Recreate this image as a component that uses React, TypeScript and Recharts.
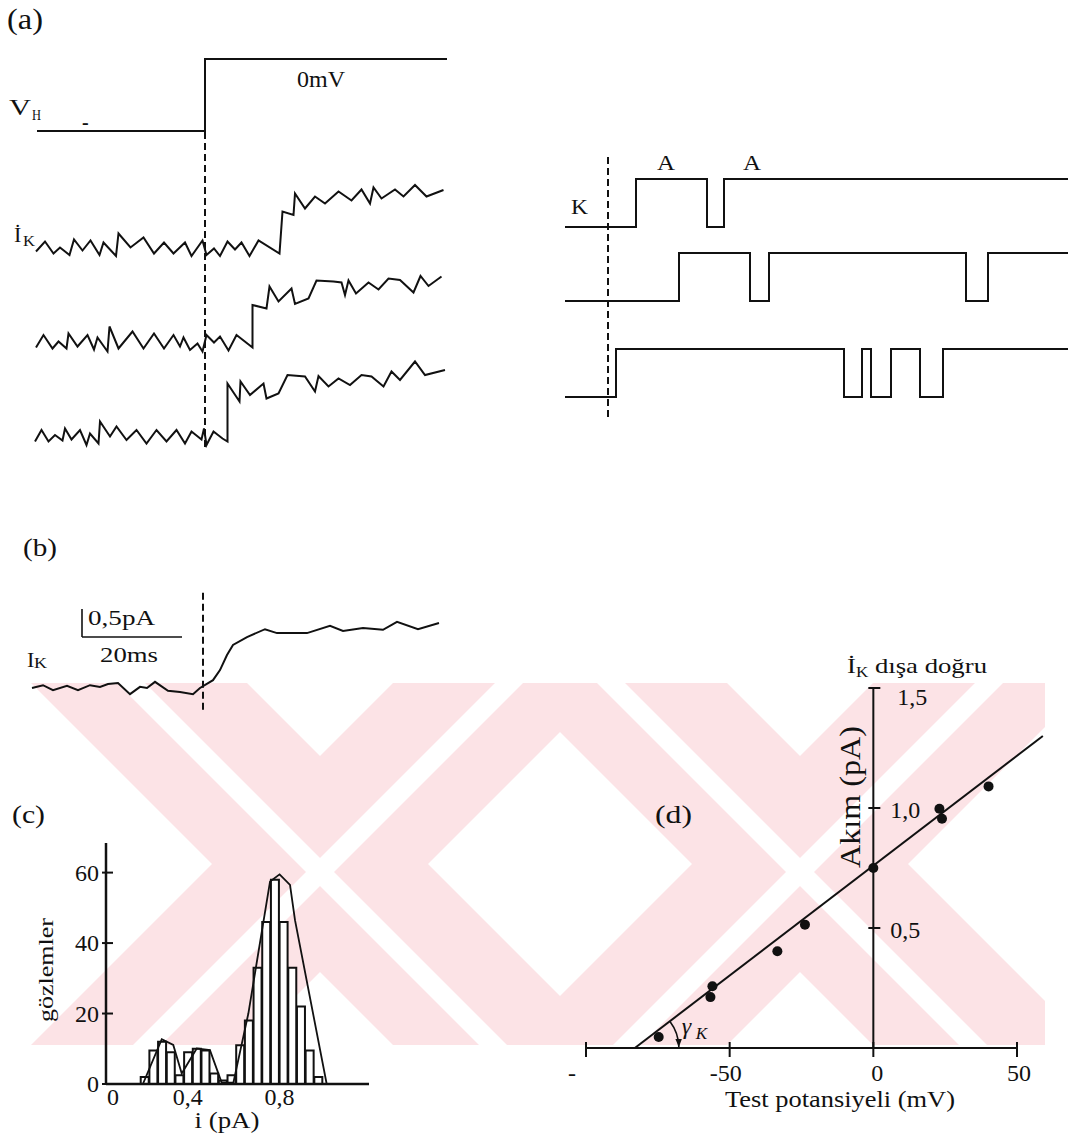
import React from 'react';
import {
  LineChart,
  Line,
  XAxis,
  YAxis,
  ReferenceLine,
  ReferenceDot,
  ComposedChart,
  Bar,
  ScatterChart,
  Scatter,
} from 'recharts';

const SERIF = '"Liberation Serif", "Times New Roman", "DejaVu Serif", serif';
const INK = '#111111';
const PINK = '#fce3e6';

// ---------- (a) voltage protocol: time (ms, 0 = step) and potential (mV)
const protocolMs = [-33.6, 0, 0, 48.4];
const protocolMv = [-80, -80, 0, 0];

// ---------- (a) single-channel sweeps: time (ms) and current (pA above closed level)
const sweep1Ms = [-33.8, -32.0, -30.3, -29.0, -27.1, -26.2, -24.5, -22.9, -21.1, -20.3, -17.8, -17.3, -14.9, -12.3, -10.2, -8.2, -6.3, -4.0, -2.7, -0.5, 0.3, 1.8, 3.0, 4.5, 6.0, 7.3, 8.9, 10.7, 14.9, 15.5, 17.7, 18.0, 20.0, 22.0, 24.0, 26.7, 29.3, 31.3, 33.0, 33.7, 35.3, 38.0, 39.7, 42.0, 44.3, 47.7];
const sweep1Pa = [-0.03, 0.17, -0.07, 0.05, -0.1, 0.21, -0.01, 0.19, -0.1, 0.15, -0.12, 0.33, 0.05, 0.25, -0.07, 0.15, -0.07, 0.15, -0.12, 0.19, -0.1, 0.03, -0.12, 0.17, 0.01, 0.15, -0.12, 0.19, -0.07, 0.77, 0.7, 1.13, 0.83, 1.07, 0.93, 1.17, 0.99, 1.21, 0.93, 1.25, 1.03, 1.21, 1.07, 1.3, 1.07, 1.2];

const sweep2Ms = [-33.8, -32.3, -30.5, -29.3, -27.7, -27.3, -25.5, -23.5, -22.2, -21.5, -19.5, -19.1, -17.3, -14.5, -12.3, -10.2, -8.2, -6.3, -5.0, -4.3, -3.0, -1.5, -0.5, 0.3, 1.8, 3.0, 4.7, 6.3, 9.5, 9.5, 12.3, 12.9, 14.7, 17.3, 18.0, 20.7, 22.3, 25.7, 27.3, 28.0, 28.7, 30.2, 32.7, 34.7, 36.7, 39.0, 41.7, 43.1, 44.7, 47.3];
const sweep2Pa = [-0.15, 0.1, -0.17, -0.03, -0.17, 0.13, -0.13, 0.1, -0.19, 0.05, -0.23, 0.27, -0.17, 0.17, -0.17, 0.13, -0.17, 0.1, -0.13, 0.05, -0.2, -0.07, -0.23, 0.1, -0.05, 0.07, -0.21, 0.1, -0.15, 0.7, 0.63, 1.07, 0.77, 1.03, 0.72, 0.83, 1.19, 1.17, 1.15, 0.9, 1.19, 0.93, 1.15, 1.01, 1.23, 1.2, 0.95, 1.28, 1.08, 1.27];

const sweep3Ms = [-34.0, -32.7, -31.3, -30.0, -28.5, -28.0, -26.7, -25.0, -23.7, -23.0, -21.3, -21.0, -19.0, -17.7, -15.7, -13.7, -11.7, -9.7, -7.7, -5.7, -4.0, -2.7, -0.7, -0.2, 0.3, 1.7, 3.5, 4.5, 4.5, 6.9, 7.1, 9.0, 11.7, 12.3, 14.7, 16.5, 20.0, 22.0, 22.7, 24.7, 26.7, 29.0, 31.3, 33.3, 35.7, 37.3, 39.0, 42.0, 44.0, 48.0];
const sweep3Pa = [-0.09, 0.14, -0.09, 0.04, -0.07, 0.17, -0.05, 0.14, -0.16, 0.07, -0.13, 0.31, 0.01, 0.21, -0.06, 0.14, -0.13, 0.14, -0.09, 0.14, -0.13, 0.11, -0.05, 0.17, -0.16, 0.11, -0.03, -0.09, 1.07, 0.71, 1.11, 0.84, 1.07, 0.77, 0.87, 1.24, 1.21, 0.91, 1.22, 1.01, 1.17, 1.04, 1.24, 1.21, 1.01, 1.31, 1.14, 1.51, 1.24, 1.34];

// ---------- (a, right) idealised records: transition times (ms) and state (0 = K closed, 1 = A open)
const ideal1Ms = [-8.6, 5.6, 19.8, 23.2, 92];
const ideal1State = [0, 1, 0, 1, 1];
const ideal2Ms = [-8.6, 14.2, 28.4, 32.2, 71.6, 76, 92];
const ideal2State = [0, 1, 0, 1, 0, 1, 1];
const ideal3Ms = [-8.6, 1.6, 47.2, 50.8, 52.6, 56.6, 62.4, 67, 92];
const ideal3State = [0, 1, 0, 1, 0, 1, 0, 1, 1];

// ---------- (b) ensemble average: time (ms) and current (pA)
const averageMs = [-34.2, -32, -30, -27.2, -25, -22.6, -20.6, -19, -17, -14.6, -12.6, -11.2, -9.6, -7, -4.6, -2, -0.6, 2, 3.4, 4.8, 6, 8.8, 12.4, 14.8, 20.8, 25.4, 28, 32, 36, 38.8, 43, 47.2];
const averagePa = [0, 0.05, -0.04, 0.04, -0.04, 0.05, 0.02, 0.07, 0.09, -0.11, 0.02, 0, 0.11, -0.05, -0.07, -0.11, 0, 0.14, 0.32, 0.59, 0.77, 0.91, 1.05, 0.98, 0.98, 1.11, 1.02, 1.07, 1.04, 1.18, 1.05, 1.16];
const scaleBarMs = 20;
const scaleBarPa = 0.5;

// ---------- (c) amplitude histogram
const binCentresPa = [0.18, 0.22, 0.26, 0.3, 0.34, 0.38, 0.42, 0.46, 0.5, 0.54, 0.58, 0.62, 0.66, 0.7, 0.74, 0.78, 0.82, 0.86, 0.9, 0.94, 0.98];
const binCounts = [2, 9.5, 12, 9, 2.5, 9, 10, 9.5, 3, 1, 2.5, 11, 18, 33, 46, 58, 46, 33, 22, 9.5, 2];
const envelopePa = [0.17, 0.257, 0.31, 0.349, 0.418, 0.479, 0.533, 0.587, 0.656, 0.756, 0.8, 0.848, 0.871, 1.017];
const envelopeCounts = [0, 12.7, 11.1, 3, 10.1, 9.6, 0.4, 0.4, 20, 57.5, 59.5, 56.5, 46.5, 0];
const histXTicks = [0, 0.4, 0.8];
const histXTickLabels = ['0', '0,4', '0,8'];
const histYTicks = [0, 20, 40, 60];

// ---------- (d) current–voltage relation
const testMv = [-74.7, -56.0, -56.7, -33.4, -23.8, 0, 23.0, 23.9, 40.1];
const currentPa = [0.046, 0.257, 0.212, 0.403, 0.514, 0.75, 0.997, 0.955, 1.09];
const fitMv = [-83, 59];
const fitPa = [0, 1.3];
const ivXTicks = [-100, -50, 0, 50];
const ivXTickLabels = ['-', '-50', '0', '50'];
const ivYTicks = [0.5, 1.0, 1.5];
const ivYTickLabels = ['0,5', '1,0', '1,5'];

// ---------- helpers to build tables
const series = (ts: number[], vs: number[], offset: number, gain = 1) =>
  ts.map((t, k) => ({ t, v: offset + gain * vs[k] }));

const T = (props: any) => (
  <text fontFamily={SERIF} fill={INK} lengthAdjust="spacingAndGlyphs" {...props} />
);

const Abs = ({ left, top, children }: any) => (
  <div style={{ position: 'absolute', left, top }}>{children}</div>
);

// decorative watermark (background only)
const WM_TOP = 683;
const WM_BOTTOM = 1045;
const bandPoints = (cx: number, dir: number, w: number, cy = 864) => {
  const xt = cx + dir * (WM_TOP - cy);
  const xb = cx + dir * (WM_BOTTOM - cy);
  return `${xt - w},${WM_TOP} ${xt + w},${WM_TOP} ${xb + w},${WM_BOTTOM} ${xb - w},${WM_BOTTOM}`;
};
const wmCentres = [320, 800];
const Watermark = () => (
  <svg width={1073} height={1140} style={{ position: 'absolute', left: 0, top: 0 }}>
    <defs>
      <clipPath id="wmclip">
        <rect x={25} y={WM_TOP} width={1020} height={WM_BOTTOM - WM_TOP} />
      </clipPath>
    </defs>
    <g clipPath="url(#wmclip)">
      {wmCentres.map((cx) => (
        <g key={cx} fill={PINK}>
          <polygon points={bandPoints(cx, 1, 108)} />
          <polygon points={bandPoints(cx, -1, 108)} />
        </g>
      ))}
      {wmCentres.map((cx) => (
        <g key={`s${cx}`} fill="#ffffff">
          <polygon points={bandPoints(cx - 8, 1, 14)} />
          <polygon points={bandPoints(cx + 8, -1, 14)} />
        </g>
      ))}
    </g>
  </svg>
);

// ---------- panel (a) left
const PanelALeft = () => {
  const lines = [
    series(protocolMs, protocolMv, 8.02, 0.018),
    series(sweep1Ms, sweep1Pa, 4.2),
    series(sweep2Ms, sweep2Pa, 2.4),
    series(sweep3Ms, sweep3Pa, 0.46),
  ];
  return (
    <LineChart width={460} height={470} margin={{ top: 40, right: 5, bottom: 10, left: 30 }}>
      <XAxis type="number" dataKey="t" domain={[-35, 50]} hide allowDataOverflow />
      <YAxis type="number" dataKey="v" domain={[0, 8.4]} hide allowDataOverflow />
      <ReferenceLine
        segment={[{ x: 0, y: 0.26 }, { x: 0, y: 6.58 }]}
        stroke={INK}
        strokeWidth={2}
        strokeDasharray="7 4"
        ifOverflow="visible"
      />
      {lines.map((d, k) => (
        <Line
          key={k}
          data={d}
          dataKey="v"
          type="linear"
          stroke={INK}
          strokeWidth={2}
          dot={false}
          isAnimationActive={false}
        />
      ))}
    </LineChart>
  );
};

// ---------- panel (a) right
const PanelARight = () => {
  const lines = [
    series(ideal1Ms, ideal1State, 4.04),
    series(ideal2Ms, ideal2State, 2.5),
    series(ideal3Ms, ideal3State, 0.5),
  ];
  return (
    <LineChart width={515} height={271} margin={{ top: 0, right: 0, bottom: 0, left: 0 }}>
      <XAxis type="number" dataKey="t" domain={[-10, 93]} hide allowDataOverflow />
      <YAxis type="number" dataKey="v" domain={[0, 271 / 48]} hide allowDataOverflow />
      <ReferenceLine
        segment={[{ x: 0, y: 0.083 }, { x: 0, y: 5.583 }]}
        stroke={INK}
        strokeWidth={2}
        strokeDasharray="7 4"
        ifOverflow="visible"
      />
      {lines.map((d, k) => (
        <Line
          key={k}
          data={d}
          dataKey="v"
          type="stepAfter"
          stroke={INK}
          strokeWidth={2}
          dot={false}
          isAnimationActive={false}
        />
      ))}
    </LineChart>
  );
};

// ---------- panel (b)
const PanelB = () => {
  const avg = series(averageMs, averagePa, 0);
  const barT = -24.2;
  const barI = 0.91;
  return (
    <LineChart width={460} height={140} margin={{ top: 0, right: 0, bottom: 0, left: 0 }}>
      <XAxis type="number" dataKey="t" domain={[-40.6, 51.4]} hide allowDataOverflow />
      <YAxis type="number" dataKey="v" domain={[-0.5, 2.0]} hide allowDataOverflow />
      <ReferenceLine
        segment={[{ x: barT, y: barI }, { x: barT, y: barI + scaleBarPa }]}
        stroke={INK}
        strokeWidth={1.6}
        ifOverflow="visible"
      />
      <ReferenceLine
        segment={[{ x: barT, y: barI }, { x: barT + scaleBarMs, y: barI }]}
        stroke={INK}
        strokeWidth={1.6}
        ifOverflow="visible"
      />
      <ReferenceLine
        segment={[{ x: 0, y: -0.39 }, { x: 0, y: 1.75 }]}
        stroke={INK}
        strokeWidth={2}
        strokeDasharray="7 4"
        ifOverflow="visible"
      />
      <Line data={avg} dataKey="v" type="linear" stroke={INK} strokeWidth={2} dot={false} isAnimationActive={false} />
    </LineChart>
  );
};

// ---------- panel (c)
const HistTickX = (p: any) => {
  const k = histXTicks.indexOf(p.payload.value);
  const dx = k === 0 ? 7 : k === 1 ? -5 : 0;
  return (
    <text x={p.x + dx} y={p.y + 21} textAnchor="middle" fontSize={24} fontFamily={SERIF} fill={INK}>
      {histXTickLabels[k]}
    </text>
  );
};
const HistTickY = (p: any) => (
  <g>
    <line x1={p.x - 4} x2={p.x + 7} y1={p.y} y2={p.y} stroke={INK} strokeWidth={2} />
    <text x={p.x - 7} y={p.y + 8} textAnchor="end" fontSize={24} fontFamily={SERIF} fill={INK}>
      {p.payload.value}
    </text>
  </g>
);

const PanelC = () => {
  const hist = binCentresPa.map((x, k) => ({ x, count: binCounts[k] }));
  const env = envelopePa.map((x, k) => ({ x, env: envelopeCounts[k] }));
  return (
    <ComposedChart width={420} height={340} margin={{ top: 43, right: 51, bottom: 26, left: 66 }} data={hist}>
      <XAxis
        xAxisId="bins"
        type="number"
        dataKey="x"
        domain={[0, 1.212]}
        allowDataOverflow
        ticks={histXTicks}
        interval={0}
        height={30}
        tickSize={0}
        tickMargin={0}
        tickLine={false}
        axisLine={{ stroke: INK, strokeWidth: 2.5 }}
        tick={(p: any) => <HistTickX {...p} />}
      />
      <XAxis xAxisId="env" type="number" dataKey="x" domain={[0, 1.212]} allowDataOverflow hide />
      <YAxis
        type="number"
        domain={[0, 68.4]}
        allowDataOverflow
        ticks={histYTicks}
        interval={0}
        width={40}
        tickSize={0}
        tickMargin={0}
        tickLine={false}
        axisLine={{ stroke: INK, strokeWidth: 2.5 }}
        tick={(p: any) => <HistTickY {...p} />}
      />
      <Bar
        xAxisId="bins"
        dataKey="count"
        barSize={8}
        fill="#ffffff"
        stroke={INK}
        strokeWidth={2}
        isAnimationActive={false}
      />
      <Line
        xAxisId="env"
        data={env}
        dataKey="env"
        type="linear"
        stroke={INK}
        strokeWidth={1.8}
        dot={false}
        isAnimationActive={false}
      />
    </ComposedChart>
  );
};

// ---------- panel (d)
const IvTickX = (p: any) => {
  const k = ivXTicks.indexOf(p.payload.value);
  const dx = k === 0 ? -14 : k === 1 ? -4 : k === 2 ? 4 : 2;
  return (
    <g>
      <line x1={p.x} x2={p.x} y1={p.y - 6} y2={p.y + 9} stroke={INK} strokeWidth={2} />
      <text x={p.x + dx} y={p.y + 33} textAnchor="middle" fontSize={24} fontFamily={SERIF} fill={INK}>
        {ivXTickLabels[k]}
      </text>
    </g>
  );
};

const IvTickY = ({ cx, cy, k }: any) => {
  const top = k === ivYTicks.length - 1;
  return (
    <g>
      <line x1={cx - 5} x2={cx + 7} y1={cy} y2={cy} stroke={INK} strokeWidth={2} />
      <text x={cx + (top ? 24 : 17)} y={cy + (top ? 17 : 10)} fontSize={24} fontFamily={SERIF} fill={INK}>
        {ivYTickLabels[k]}
      </text>
    </g>
  );
};

const AngleMark = ({ cx, cy }: any) => {
  const r = 44;
  const a = (37 * Math.PI) / 180;
  const ex = cx + r * Math.cos(a);
  const ey = cy - r * Math.sin(a);
  return (
    <g>
      <path d={`M ${ex} ${ey} A ${r} ${r} 0 0 1 ${cx + r} ${cy - 1}`} fill="none" stroke={INK} strokeWidth={1.6} />
      <polygon
        points={`${cx + r},${cy - 1} ${cx + r - 3.5},${cy - 9} ${cx + r + 3},${cy - 9}`}
        fill={INK}
      />
      <text x={cx + 47} y={cy - 14} fontSize={24} fontStyle="italic" fontFamily={SERIF} fill={INK}>
        γ
      </text>
      <text x={cx + 61} y={cy - 9} fontSize={17} fontStyle="italic" fontFamily={SERIF} fill={INK}>
        K
      </text>
    </g>
  );
};

const PanelD = () => {
  const pts = testMv.map((mv, k) => ({ mv, pa: currentPa[k] }));
  return (
    <ScatterChart width={533} height={480} margin={{ top: 48, right: 56, bottom: 42, left: 46 }}>
      <XAxis
        type="number"
        dataKey="mv"
        domain={[-100, 50]}
        allowDataOverflow
        ticks={ivXTicks}
        interval={0}
        height={30}
        tickSize={0}
        tickMargin={0}
        tickLine={false}
        axisLine={{ stroke: INK, strokeWidth: 2 }}
        tick={(p: any) => <IvTickX {...p} />}
      />
      <YAxis type="number" dataKey="pa" domain={[0, 1.5]} allowDataOverflow hide />
      <ReferenceLine
        segment={[{ x: 0, y: 0 }, { x: 0, y: 1.5 }]}
        stroke={INK}
        strokeWidth={2}
        ifOverflow="visible"
      />
      {ivYTicks.map((v, k) => (
        <ReferenceDot
          key={v}
          x={0}
          y={v}
          r={1}
          ifOverflow="visible"
          shape={(p: any) => <IvTickY cx={p.cx} cy={p.cy} k={k} />}
        />
      ))}
      <ReferenceLine
        segment={[{ x: fitMv[0], y: fitPa[0] }, { x: fitMv[1], y: fitPa[1] }]}
        stroke={INK}
        strokeWidth={2}
        ifOverflow="visible"
      />
      <ReferenceDot
        x={fitMv[0]}
        y={fitPa[0]}
        r={1}
        ifOverflow="visible"
        shape={(p: any) => <AngleMark cx={p.cx} cy={p.cy} />}
      />
      <Scatter
        data={pts}
        dataKey="pa"
        isAnimationActive={false}
        shape={(p: any) => <circle cx={p.cx} cy={p.cy} r={5} fill={INK} />}
      />
    </ScatterChart>
  );
};

const Labels = () => (
  <svg
    width={1073}
    height={1140}
    style={{ position: 'absolute', left: 0, top: 0, pointerEvents: 'none' }}
  >
    <T x={7} y={29} fontSize={29} textLength={36}>(a)</T>
    <T x={9} y={115} fontSize={23} textLength={22}>V</T>
    <T x={32} y={120} fontSize={15} textLength={9}>H</T>
    <T x={82} y={129} fontSize={20} fontWeight="bold">-</T>
    <T x={297} y={87} fontSize={23} textLength={48}>0mV</T>
    <T x={14} y={242} fontSize={22}>İ</T>
    <T x={23} y={246} fontSize={14} textLength={12}>K</T>
    <T x={571} y={214} fontSize={22} textLength={17}>K</T>
    <T x={657} y={170} fontSize={21} textLength={18}>A</T>
    <T x={743} y={170} fontSize={21} textLength={18}>A</T>

    <T x={23} y={556} fontSize={25} textLength={34}>(b)</T>
    <T x={88} y={625} fontSize={22} textLength={67}>0,5pA</T>
    <T x={100} y={662} fontSize={22} textLength={58}>20ms</T>
    <T x={27} y={667} fontSize={22}>I</T>
    <T x={34} y={668} fontSize={14} textLength={13}>K</T>

    <T x={12} y={823} fontSize={25} textLength={33}>(c)</T>
    <T x={53} y={970} fontSize={22} textAnchor="middle" textLength={104} transform="rotate(-90 53 970)">
      gözlemler
    </T>
    <T x={227} y={1128} fontSize={24} textAnchor="middle" textLength={65}>i (pA)</T>

    <T x={655} y={823} fontSize={26} textLength={37}>(d)</T>
    <T x={847} y={673} fontSize={22} textLength={140}>
      İ<tspan fontSize={14} dy={4}>K</tspan>
      <tspan dy={-4}> dışa doğru</tspan>
    </T>
    <T x={860} y={797} fontSize={30} textAnchor="middle" textLength={142} transform="rotate(-90 860 797)">
      Akım (pA)
    </T>
    <T x={840} y={1107} fontSize={23} textAnchor="middle" textLength={230}>Test potansiyeli (mV)</T>
  </svg>
);

export default function App() {
  return (
    <div
      style={{
        position: 'absolute',
        left: 0,
        top: 0,
        width: 1073,
        height: 1140,
        background: '#ffffff',
        overflow: 'hidden',
        fontFamily: SERIF,
      }}
    >
      <Watermark />
      <Abs left={0} top={0}>
        <PanelALeft />
      </Abs>
      <Abs left={558} top={150}>
        <PanelARight />
      </Abs>
      <Abs left={0} top={576}>
        <PanelB />
      </Abs>
      <Abs left={0} top={800}>
        <PanelC />
      </Abs>
      <Abs left={540} top={640}>
        <PanelD />
      </Abs>
      <Labels />
    </div>
  );
}
